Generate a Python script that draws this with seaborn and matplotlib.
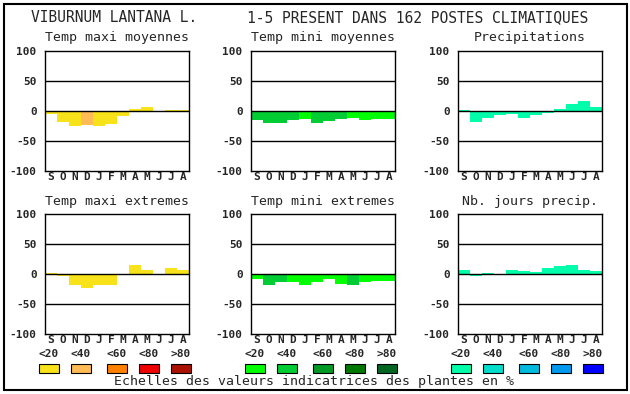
import pandas as pd
import matplotlib
matplotlib.use("Agg")
import matplotlib.pyplot as plt
from matplotlib.patches import Rectangle
import seaborn as sns

sns.set_style("white")
plt.rcParams['font.family'] = ['DejaVu Sans Mono', 'DejaVu Sans']

# months, september to august
months = ["S", "O", "N", "D", "J", "F", "M", "A", "M", "J", "J", "A"]

# values (%), and colour class (0 = <20, 1 = <40 ...)
tmax_moy = [-5, -18, -25, -24, -25, -22, -8, 4, 7, 0, 2, 2]
tmax_moy_cls = [0, 0, 0, 1, 0, 0, 0, 0, 0, 0, 0, 0]
tmin_moy = [-15, -20, -20, -15, -14, -20, -17, -14, -11, -15, -14, -14]
tmin_moy_cls = [1, 1, 1, 1, 0, 1, 1, 1, 0, 0, 0, 0]
precip = [2, -18, -11, -6, -5, -11, -6, -3, 4, 12, 16, 7]
precip_cls = [0] * 12
tmax_ext = [2, -4, -18, -23, -18, -18, 0, 15, 7, 0, 10, 7]
tmax_ext_cls = [0] * 12
tmin_ext = [-8, -18, -14, -14, -18, -14, -8, -16, -18, -13, -11, -11]
tmin_ext_cls = [0, 1, 1, 0, 0, 0, 0, 0, 1, 0, 0, 0]
nb_jours = [7, -3, 2, 0, 7, 5, 4, 10, 14, 15, 7, 5]
nb_jours_cls = [0] * 12

# colour scales
warm = ["#f8e21a", "#ffbb55", "#ff8000", "#ee0000", "#aa1100"]
green = ["#00ff00", "#00cc33", "#009922", "#007700", "#006622"]
blue = ["#00ffaa", "#00ddcc", "#00bbdd", "#0099ee", "#0000ff"]
scale_labels = ["<20", "<40", "<60", "<80", ">80"]

yticks = [100, 50, 0, -50, -100]
ytick_labels = ["100", "50", "0", "-50", "-100"]

W, H = 630, 394
fig = plt.figure(figsize=(W / 100, H / 100), dpi=100)


def px(x, y):
    # pixel position -> figure fraction
    return x / W, 1 - y / H


def txt(x, y, s, **kw):
    fx, fy = px(x, y)
    fig.text(fx, fy, s, va="center", **kw)


panels = [
    ("Temp maxi moyennes", tmax_moy, tmax_moy_cls, warm, 45, 51),
    ("Temp mini moyennes", tmin_moy, tmin_moy_cls, green, 251, 51),
    ("Precipitations", precip, precip_cls, blue, 458, 51),
    ("Temp maxi extremes", tmax_ext, tmax_ext_cls, warm, 45, 214),
    ("Temp mini extremes", tmin_ext, tmin_ext_cls, green, 251, 214),
    ("Nb. jours precip.", nb_jours, nb_jours_cls, blue, 458, 214),
]

for title, vals, cls, cols, left, top in panels:
    ax = fig.add_axes([left / W, 1 - (top + 120) / H, 144 / W, 120 / H])
    df = pd.DataFrame({"pos": range(12), "val": vals, "cls": cls})
    pal = {i: cols[i] for i in range(5)}
    sns.barplot(data=df, x="pos", y="val", hue="cls", palette=pal, dodge=False,
                width=1, saturation=1, linewidth=0, legend=False, ax=ax)
    for v in [50, 0, -50]:
        ax.axhline(v, color="black", lw=1, zorder=3)
    ax.set_xlim(-0.5, 11.5)
    ax.set_ylim(-100, 100)
    ax.set_yticks(yticks)
    ax.set_yticklabels(ytick_labels, fontsize=8, fontweight="bold")
    ax.set_xticks(range(12))
    ax.set_xticklabels(months, fontsize=8, fontweight="bold")
    ax.tick_params(axis="y", length=0, pad=6)
    ax.tick_params(axis="x", length=0, pad=1)
    ax.set_xlabel("")
    ax.set_ylabel("")
    for sp in ax.spines.values():
        sp.set_color("black")
        sp.set_linewidth(1)
    txt(left + 72, top - 13, title, ha="center", fontsize=9.5)

# legend scales under the bottom row
for cols, x0 in [(warm, 39), (green, 245), (blue, 451)]:
    offs = [0, 32, 68, 100, 132]
    for c, lab, o in zip(cols, scale_labels, offs):
        txt(x0 + o + 10, 354, lab, ha="center", fontsize=8, fontweight="bold")
        fx, fy = px(x0 + o, 373)
        fig.add_artist(Rectangle((fx, fy), 20 / W, 9 / H, transform=fig.transFigure,
                                 facecolor=c, edgecolor="black", lw=0.8))

txt(31, 18, "VIBURNUM LANTANA L.", ha="left", fontsize=10.5)
txt(247, 18, "1-5 PRESENT DANS 162 POSTES CLIMATIQUES", ha="left", fontsize=10.5)
txt(314, 382, "Echelles des valeurs indicatrices des plantes en %", ha="center", fontsize=9.5)

# outer frame
fx, fy = px(4, 390)
fig.add_artist(Rectangle((fx, fy), 623 / W, 386 / H, transform=fig.transFigure,
                         fill=False, edgecolor="black", lw=1.5))

plt.savefig("out.png", dpi=100)
